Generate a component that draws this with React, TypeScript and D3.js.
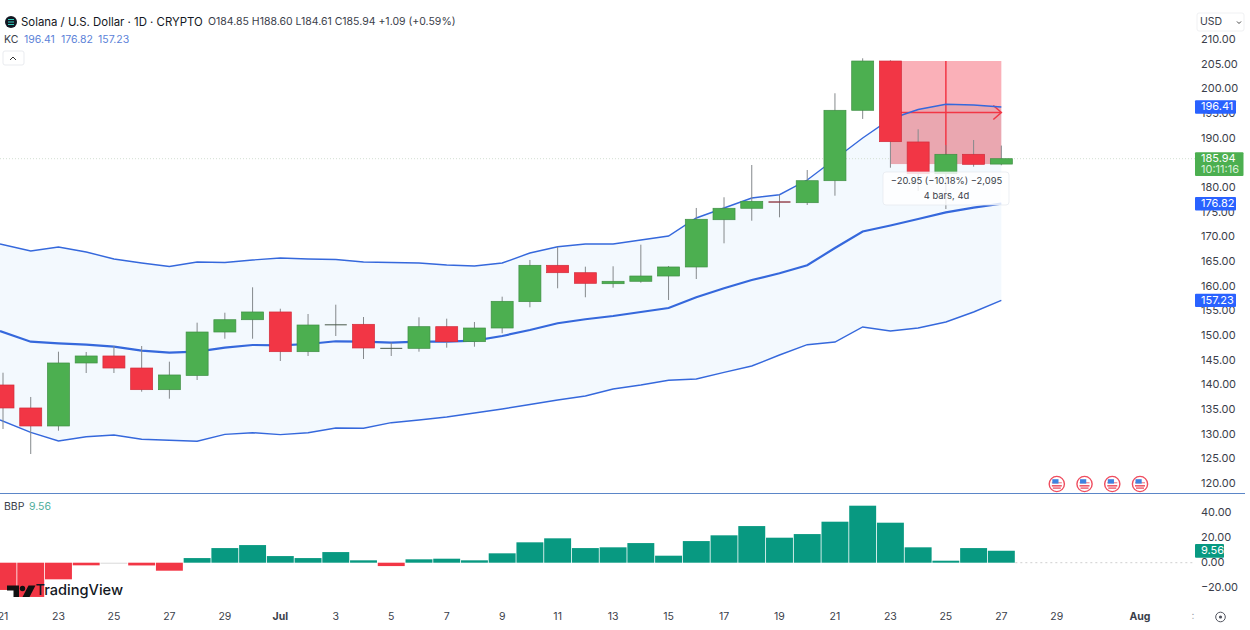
import * as d3 from "d3";

// daily candles, Jun 21 -> Jul 27
const opens = [140.07, 135.41, 131.76, 144.53, 145.95, 143.51, 139.12, 142.0, 150.81, 153.3, 154.87, 146.82, 152.3, 152.37, 147.57, 147.5, 151.89, 148.85, 151.62, 156.96, 164.33, 162.83, 160.6, 161.09, 162.16, 163.99, 173.57, 175.89, 177.3, 177.02, 181.48, 195.75, 205.74, 189.33, 182.9, 186.83, 184.85];
const highs = [142.56, 137.64, 146.82, 146.76, 147.97, 147.97, 144.79, 152.7, 154.72, 159.87, 155.53, 154.46, 156.35, 153.85, 148.64, 153.79, 153.51, 152.84, 157.97, 165.41, 168.1, 164.05, 164.13, 168.51, 164.19, 175.95, 178.12, 184.66, 178.64, 183.65, 199.2, 206.29, 205.89, 191.9, 188.7, 189.73, 188.6];
const lows = [131.15, 126.08, 130.8, 142.5, 142.5, 138.71, 137.29, 141.08, 149.45, 149.45, 144.93, 145.95, 150.0, 145.34, 145.95, 146.82, 147.63, 147.83, 150.55, 155.82, 159.67, 157.85, 159.79, 160.8, 157.3, 161.55, 168.79, 173.37, 174.06, 176.55, 178.44, 194.0, 184.11, 179.4, 175.74, 184.32, 184.61];
const closes = [135.41, 131.76, 144.53, 145.95, 143.51, 139.12, 142.1, 150.81, 153.3, 154.87, 146.82, 152.23, 152.37, 147.57, 147.6, 151.89, 148.85, 151.62, 157.03, 164.33, 162.83, 160.68, 161.09, 162.16, 163.99, 173.66, 175.89, 177.3, 177.02, 181.48, 195.75, 205.74, 189.39, 182.9, 186.83, 184.8, 185.94];

const kcUpper = [168.65, 167.23, 168.04, 167.03, 165.61, 164.8, 164.09, 165, 164.9, 165.41, 165.81, 165.61, 165.51, 165, 164.9, 164.8, 164.39, 164.19, 164.8, 166.82, 168.1, 168.65, 168.65, 169.46, 170.27, 173.92, 175.95, 177.97, 178.64, 181.62, 185.88, 190.14, 193.99, 195.91, 196.97, 196.82, 196.41];
const kcMiddle = [151.01, 148.85, 148.52, 148.24, 147.83, 147.02, 146.62, 146.82, 147.63, 148.18, 148.12, 148.38, 148.93, 148.85, 148.64, 148.85, 148.85, 149.05, 150, 151.22, 152.58, 153.39, 154.05, 154.87, 155.68, 157.85, 159.67, 161.35, 162.71, 164.33, 167.84, 171.18, 172.4, 173.72, 175.07, 176.01, 176.82];
const kcLower = [132.97, 130.48, 128.72, 129.59, 129.93, 129.06, 128.86, 128.66, 130.07, 130.4, 130, 130.4, 131.35, 131.29, 132.43, 132.97, 133.58, 134.4, 135.2, 136.12, 137.03, 137.84, 139.26, 140.07, 141.02, 141.28, 142.64, 143.92, 146.15, 148.24, 148.78, 151.83, 151.01, 151.62, 152.84, 154.87, 157.23];

const bbp = [-21.8, -27.4, -13.3, -2.1, -0.4, -2.2, -6.4, 3.7, 11.7, 14.1, 5.3, 3.7, 8.5, 1.9, -2.7, 2.7, 3.2, 1.9, 7.5, 16.3, 19.5, 11.7, 12.3, 15.7, 5.6, 17.3, 21.9, 29.3, 20, 22.9, 32.8, 45.6, 32, 12.3, 1.6, 11.7, 9.56];

const priceTicks = [210, 205, 200, 195, 190, 180, 175, 170, 165, 160, 155, 150, 145, 140, 135, 130, 125, 120];
const bbpTicks = [40, 20, 0, -20];
const dateTicks: [number, string, boolean][] = [
  [0, "21", false], [2, "23", false], [4, "25", false], [6, "27", false], [8, "29", false],
  [10, "Jul", true], [12, "3", false], [14, "5", false], [16, "7", false], [18, "9", false],
  [20, "11", false], [22, "13", false], [24, "15", false], [26, "17", false], [28, "19", false],
  [30, "21", false], [32, "23", false], [34, "25", false], [36, "27", false], [38, "29", false],
  [41, "Aug", true],
];
const eventIdx = [38, 39, 40, 41];

const FONT = "Inter, 'Noto Sans', sans-serif";
const UP = "#4caf50";
const DOWN = "#f23645";
const BLUE = "#2962ff";
const LINE = "#3568dc";
const TEAL = "#089981";
const TEXT = "#3a3e4a";

const x = d3.scaleLinear().domain([0, 41]).range([3, 1140]);
const y = d3.scaleLinear().domain([120, 210]).range([484, 40]);
const yb = d3.scaleLinear().domain([-20, 40]).range([587.7, 512.7]);
const step = x(1) - x(0);

const idx = d3.range(opens.length);
const kcLine = (vals: number[]) =>
  d3.line<number>().x((i) => (i === 0 ? 0 : x(i))).y((i) => y(vals[i]))(idx)!;
const band = d3
  .area<number>()
  .x((i) => (i === 0 ? 0 : x(i)))
  .y0((i) => y(kcLower[i]))
  .y1((i) => y(kcUpper[i]))(idx)!;

// measuring tool spans bar 32 to bar 36
const measureX0 = x(32);
const measureX1 = x(36);
const measureY0 = y(opens[32]);
const measureY1 = y(closes[36] - 1.09);
const measureMid = (measureX0 + measureX1) / 2;
const arrowY = y(195.3);

function PriceTag({ value, fill = BLUE, w = 41 }: { value: string; fill?: string; w?: number }) {
  const cy = y(+value);
  return (
    <g>
      <rect x={1195} y={cy - 6.7} width={w} height={13.4} fill={fill} rx={1} />
      <text x={1201} y={cy + 0.3} fontSize={11} fill="#fff" dominantBaseline="middle">{value}</text>
    </g>
  );
}

function Flag({ cx }: { cx: number }) {
  const cy = 484;
  return (
    <g>
      <circle cx={cx} cy={cy} r={7.6} fill="#fff" stroke="#ef4d5f" strokeWidth={1.4} />
      <rect x={cx - 5} y={cy + 1} width={10} height={1.6} fill="#ef5a6a" />
      <rect x={cx - 4} y={cy + 3.4} width={8} height={1.4} fill="#ef5a6a" />
      <rect x={cx - 5} y={cy - 2} width={10} height={1.4} fill="#f19aa4" />
      <rect x={cx - 4.5} y={cy - 4.8} width={6.2} height={4.4} fill="#3f83e0" />
    </g>
  );
}

export default function App() {
  return (
    <svg
      width={1250}
      height={630}
      style={{ position: "absolute", left: 0, top: 0, background: "#fff" }}
      fontFamily={FONT}
    >
      <defs>
        <clipPath id="measure-clip">
          <rect x={measureX0} y={measureY0} width={measureX1 - measureX0} height={measureY1 - measureY0} />
        </clipPath>
      </defs>

      {/* Keltner band */}
      <path d={band} fill="#f3f9fe" />

      {/* last price line */}
      <line x1={0} x2={1195} y1={y(185.94)} y2={y(185.94)} stroke="#d3dfd3" strokeDasharray="1 2" />

      {/* measure box */}
      <rect x={measureX0} y={measureY0} width={measureX1 - measureX0} height={measureY1 - measureY0} fill="#fab0b8" />
      <path d={band} fill="#4a4a60" opacity={0.09} clipPath="url(#measure-clip)" />
      <line x1={measureMid} x2={measureMid} y1={measureY0} y2={measureY1} stroke={DOWN} strokeWidth={1.5} />
      <line x1={measureX0} x2={measureX1} y1={arrowY} y2={arrowY} stroke={DOWN} strokeWidth={1.5} />
      <path
        d={`M${measureX1 - 8},${arrowY - 7}L${measureX1},${arrowY}L${measureX1 - 8},${arrowY + 7}`}
        fill="none"
        stroke={DOWN}
        strokeWidth={1.5}
      />

      {/* KC lines */}
      <path d={kcLine(kcUpper)} fill="none" stroke={LINE} strokeWidth={1.4} />
      <path d={kcLine(kcMiddle)} fill="none" stroke={LINE} strokeWidth={2.2} />
      <path d={kcLine(kcLower)} fill="none" stroke={LINE} strokeWidth={1.4} />

      {/* candles */}
      {idx.map((i) => {
        const up = closes[i] >= opens[i];
        const top = y(Math.max(opens[i], closes[i]));
        const bot = y(Math.min(opens[i], closes[i]));
        const h = bot - top;
        const thin = h < 1.5;
        const color = up ? UP : DOWN;
        return (
          <g key={i}>
            <line x1={x(i)} x2={x(i)} y1={y(highs[i])} y2={y(lows[i])} stroke="#85898c" strokeWidth={1} />
            <rect
              x={x(i) - 11}
              y={top}
              width={22}
              height={Math.max(h, 1)}
              fill={thin ? (up ? "#4a5a4a" : "#8f3a44") : color}
              stroke={thin ? "none" : up ? "#3f8f44" : "#d22c3b"}
              strokeWidth={0.7}
            />
          </g>
        );
      })}

      {/* measure label */}
      <rect x={883} y={172} width={126} height={33} rx={3} fill="#fff" fillOpacity={0.82} stroke="#e4e8ee" strokeWidth={0.7} />
      <text x={946.5} y={181.5} textAnchor="middle" fontSize={9.4} fill={TEXT} dominantBaseline="middle">
        −20.95 (−10.18%) −2,095
      </text>
      <text x={946.5} y={196} textAnchor="middle" fontSize={9.4} fill={TEXT} dominantBaseline="middle">
        4 bars, 4d
      </text>

      {/* events */}
      {eventIdx.map((i) => <Flag key={i} cx={x(i)} />)}

      {/* pane separator */}
      <line x1={0} x2={1245} y1={493.5} y2={493.5} stroke="#5b86c8" strokeWidth={1.2} />

      {/* BBP */}
      <line x1={x(36) + 14} x2={1195} y1={yb(0)} y2={yb(0)} stroke="#cfcfcf" strokeDasharray="2 3" />
      {bbp.map((v, i) => {
        const color = v > 0 ? TEAL : v > -1 ? "#d9d9d9" : DOWN;
        return (
          <rect
            key={i}
            x={x(i) - step / 2 + 0.4}
            y={Math.min(yb(v), yb(0))}
            width={step - 0.8}
            height={Math.max(Math.abs(yb(v) - yb(0)), 1)}
            fill={color}
          />
        );
      })}

      {/* price axis */}
      {priceTicks.map((t) => (
        <text key={t} x={1201} y={y(t)} fontSize={11} fill={TEXT} dominantBaseline="middle">
          {t.toFixed(2)}
        </text>
      ))}
      <PriceTag value="196.41" />
      <PriceTag value="176.82" />
      <PriceTag value="157.23" />
      <rect x={1195} y={152.3} width={48.5} height={23.7} fill={UP} rx={1} />
      <text x={1201} y={159.2} fontSize={11} fill="#fff" dominantBaseline="middle">185.94</text>
      <text x={1201} y={170} fontSize={11} fill="#d8f0d9" dominantBaseline="middle">10:11:16</text>

      {/* BBP axis */}
      {bbpTicks.map((t) => (
        <text key={t} x={1201} y={yb(t)} fontSize={11} fill={TEXT} dominantBaseline="middle">
          {t < 0 ? `−${Math.abs(t).toFixed(2)}` : t.toFixed(2)}
        </text>
      ))}
      <rect x={1195} y={544} width={29} height={13.7} fill={TEAL} rx={1} />
      <text x={1201} y={551} fontSize={11} fill="#fff" dominantBaseline="middle">9.56</text>

      {/* date axis */}
      {dateTicks.map(([i, label, bold]) => (
        <text
          key={`${i}-${label}`}
          x={x(i)}
          y={617}
          fontSize={10.5}
          textAnchor="middle"
          dominantBaseline="middle"
          fontWeight={bold ? 700 : 400}
          fill={TEXT}
        >
          {label}
        </text>
      ))}
      <text x={1193} y={616} fontSize={10} fill="#9a9ea8" textAnchor="middle" dominantBaseline="middle">:</text>
      <circle cx={1220.5} cy={617} r={4.8} fill="none" stroke="#50535e" strokeWidth={1} />
      <circle cx={1220.5} cy={617} r={1.6} fill="#50535e" />

      {/* TradingView mark */}
      <path d="M7,585.5H19V597H13.5V590.5H7Z" fill="#111" />
      <circle cx={22.5} cy={588.5} r={2.7} fill="#111" />
      <path d="M28.5,585.5H35.5L29.5,597H22.5Z" fill="#111" />
      <text x={35.5} y={591} fontSize={14.6} fontWeight={500} fill="#131722" dominantBaseline="middle">
        TradingView
      </text>

      {/* header */}
      <circle cx={11} cy={22} r={6} fill="#131722" />
      <path d="M8,19.5H14M8,22H14M8,24.5H14" stroke="#35d0c0" strokeWidth={1} />
      <text x={21} y={22.5} fontSize={11.4} fill="#131722" dominantBaseline="middle">
        Solana / U.S. Dollar · 1D · CRYPTO
      </text>
      <text x={208} y={22.5} fontSize={10.5} fill={TEXT} dominantBaseline="middle">
        O184.85 H188.60 L184.61 C185.94 +1.09 (+0.59%)
      </text>
      <text x={4} y={40.5} fontSize={10.5} fill={TEXT} dominantBaseline="middle">KC</text>
      {["196.41", "176.82", "157.23"].map((v, i) => (
        <text key={v} x={24 + i * 37} y={40.5} fontSize={10.5} fill="#5b82d8" dominantBaseline="middle">{v}</text>
      ))}
      <rect x={3} y={51} width={21} height={14} rx={2} fill="#fff" stroke="#e9ebef" />
      <path d="M10,60L13,57L16,60" fill="none" stroke="#333" />
      <rect x={1197} y={13} width={47} height={18} rx={2} fill="#fff" stroke="#f0f1f3" />
      <text x={1200} y={22.5} fontSize={10.5} fill={TEXT} dominantBaseline="middle">USD</text>
      <path d="M1237,21.5L1239,23.5L1241,21.5" fill="none" stroke="#444" />
      <text x={4} y={507} fontSize={10.5} fill={TEXT} dominantBaseline="middle">BBP</text>
      <text x={29} y={507} fontSize={10.5} fill="#4fae9c" dominantBaseline="middle">9.56</text>
    </svg>
  );
}
